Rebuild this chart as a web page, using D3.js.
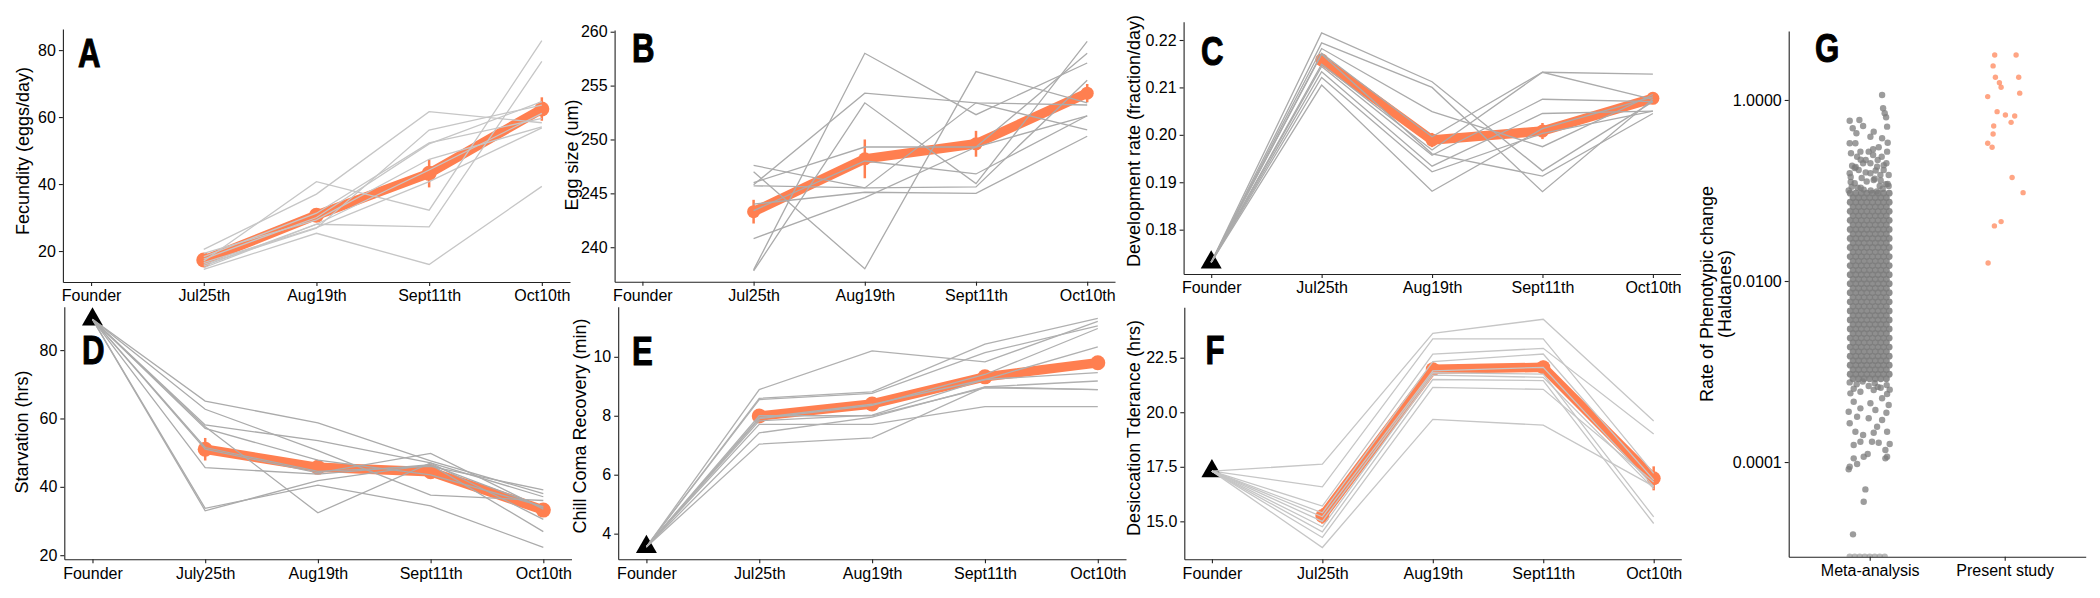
<!DOCTYPE html>
<html>
<head>
<meta charset="utf-8">
<script src="https://cdn.jsdelivr.net/npm/d3@7"></script>
<style>
body { margin: 0; background: #fff; }
svg { display: block; font-family: "Liberation Sans", Arial, Helvetica, sans-serif; }
.axis .tick text { font-size: 16px; fill: #000; font-family: "Liberation Sans", Arial, Helvetica, sans-serif; }
.axis .tick line, .axis .domain { stroke: #222; stroke-width: 1.1px; }
.ytitle { font-size: 18px; fill: #000; }
.letter { font-family: "Liberation Sans", Arial, sans-serif; font-weight: bold; font-size: 40px; fill: #000; stroke: #000; stroke-width: 1px; }
</style>
</head>
<body>
<div id="chart"></div>
<script>
var dates = ["Founder", "Jul25th", "Aug19th", "Sept11th", "Oct10th"];
var datesJuly = ["Founder", "July25th", "Aug19th", "Sept11th", "Oct10th"];

// A - fecundity (eggs/day)
var fecMean = [null, 17.3, 30.7, 43.2, 62.4];
var fecErr = [null, 1.2, 1.8, 4.2, 3.5];
var fecReps = [
	[null, 17.0, 40.7, 32.2, 82.8],
	[null, 15.5, 28.0, 27.2, 76.6],
	[null, 20.5, 37.0, 61.6, 58.3],
	[null, 16.0, 26.8, 56.1, 63.6],
	[null, 18.3, 31.3, 52.3, 59.6],
	[null, 19.3, 29.3, 47.4, 57.1],
	[null, 14.5, 25.3, 16.0, 39.3],
	[null, 17.6, 30.0, 52.0, 64.6],
	[null, 15.0, 28.0, 44.2, 61.1],
	[null, 16.5, 27.0, 40.7, 56.8]];

// B - egg size (um)
var eggMean = [null, 243.3, 248.2, 249.6, 254.3];
var eggErr = [null, 1.1, 1.8, 1.2, 0.85];
var eggReps = [
	[null, 247.0, 238.0, 256.3, 253.4],
	[null, 237.9, 258.0, 252.3, 257.1],
	[null, 237.8, 253.4, 245.9, 259.1],
	[null, 245.8, 254.3, 253.4, 253.2],
	[null, 240.8, 244.6, 249.3, 258.0],
	[null, 246.0, 249.3, 249.3, 252.2],
	[null, 247.6, 245.5, 245.6, 255.5],
	[null, 244.0, 245.1, 245.0, 250.3],
	[null, 243.4, 248.0, 246.8, 252.2],
	[null, 245.7, 245.5, 253.4, 250.9]];

// C - development rate
var devFounder = 0.1731;
var devMean = [null, 0.2158, 0.1989, 0.2008, 0.2077];
var devErr = [null, 0.0008, 0.0015, 0.0017, 0.001];
var devReps = [
	[0.1731, 0.2215, 0.2112, 0.1924, 0.2070],
	[0.1731, 0.2194, 0.2100, 0.1880, 0.2075],
	[0.1731, 0.2182, 0.2049, 0.1975, 0.2085],
	[0.1731, 0.2172, 0.1996, 0.2132, 0.2128],
	[0.1731, 0.2149, 0.1968, 0.2132, 0.2075],
	[0.1731, 0.2144, 0.1957, 0.2075, 0.2070],
	[0.1731, 0.2133, 0.1934, 0.2045, 0.2050],
	[0.1731, 0.2121, 0.1922, 0.2003, 0.2050],
	[0.1731, 0.2105, 0.1881, 0.2013, 0.2080],
	[0.1731, 0.2170, 0.1960, 0.1913, 0.2045]];

// D - starvation (hrs)
var starvFounder = 89;
var starvMean = [null, 51.0, 45.7, 44.4, 33.2];
var starvErr = [null, 3.3, 1.0, 1.2, 1.0];
var starvReps = [
	[89, 65.1, 58.7, 47.6, 38.0],
	[89, 62.7, 50.6, 37.6, 36.0],
	[89, 58.1, 53.5, 47.0, 37.1],
	[89, 57.1, 47.8, 43.5, 34.2],
	[89, 57.6, 32.4, 47.0, 30.5],
	[89, 51.0, 44.1, 49.8, 33.5],
	[89, 45.6, 43.7, 46.5, 34.0],
	[89, 33.7, 40.5, 34.4, 22.3],
	[89, 33.0, 41.8, 46.5, 26.9],
	[89, 51.5, 44.5, 46.0, 39.1]];

// E - chill coma recovery (min)
var chillFounder = 3.55;
var chillMean = [null, 7.99, 8.40, 9.32, 9.80];
var chillErr = [null, 0.15, 0.15, 0.15, 0.12];
var chillReps = [
	[3.55, 8.89, 10.20, 9.83, 11.20],
	[3.55, 8.59, 8.81, 10.43, 11.30],
	[3.55, 8.55, 8.76, 10.14, 11.05],
	[3.55, 7.93, 8.39, 9.23, 10.34],
	[3.55, 7.83, 8.02, 9.23, 9.46],
	[3.55, 7.71, 7.71, 8.31, 8.31],
	[3.55, 7.42, 7.95, 8.98, 9.18],
	[3.55, 7.04, 7.25, 8.98, 8.89],
	[3.55, 8.00, 8.00, 8.95, 8.89],
	[3.55, 7.90, 8.35, 9.40, 10.96]];

// F - desiccation tolerance (hrs)
var desFounder = 17.3;
var desMean = [null, 15.24, 21.97, 22.06, 16.97];
var desErr = [null, 0.35, 0.3, 0.3, 0.55];
var desReps = [
	[17.3, 17.62, 23.62, 24.26, 19.6],
	[17.3, 16.58, 23.36, 23.36, 17.2],
	[17.3, 15.70, 22.66, 22.93, 19.0],
	[17.3, 15.39, 22.32, 22.67, 16.9],
	[17.3, 15.21, 21.90, 22.06, 16.6],
	[17.3, 15.00, 21.81, 21.75, 15.2],
	[17.3, 14.75, 21.70, 21.60, 16.5],
	[17.3, 14.52, 21.50, 21.45, 14.9],
	[17.3, 14.26, 21.14, 21.05, 16.8],
	[17.3, 13.80, 19.67, 19.41, 16.6]];

// G - rates of phenotypic change (haldanes)
var groups = ["Meta-analysis", "Present study"];
var haldaneTicks = [1, 0.01, 0.0001];
var presentValues = [3.14, 3.14, 2.38, 1.78, 1.78, 1.55, 1.38, 1.19, 1.09, 0.743,
	0.682, 0.665, 0.566, 0.516, 0.421, 0.332, 0.300, 0.139, 0.0946, 0.0406, 0.0453, 0.0158];
var presentJitter = [-10, 11.4, -11.6, -9.3, 14, -5.3, -3.6, 15, -17, -7.6,
	0.7, 10, 6.4, -11, -11.6, -17, -12.6, 7.4, 18.4, -10.3, -3.6, -16.6];
// sparse meta-analysis points (log10 haldanes), tails above and below the dense core
var metaLog10 = [0.055, -0.092, -0.147, -0.191, -0.229, -0.221, -0.295, -0.313, -0.287, -0.368,
	-0.350, -0.406, -0.423, -0.472, -0.478, -0.478, -0.523, -0.571, -0.571, -0.545,
	-0.589, -0.571, -0.608, -0.627, -0.627, -0.726, -0.699, -0.699, -0.699, -0.737,
	-0.810, -0.773, -0.829, -0.810, -0.829, -0.663, -0.663, -0.751, -0.773, -0.862,
	-0.884, -0.906, -0.928, -0.950,
	-0.96, -0.97, -0.99, -1.00, -1.01, -0.98, -0.95, -0.92, -0.90, -0.87,
	-0.93, -0.97, -1.00, -0.89, -0.85, -0.80, -0.78, -0.74, -0.72, -0.66,
	-3.12, -3.14, -3.11, -3.16, -3.13, -3.18, -3.15, -3.19, -3.17, -3.20,
	-3.241, -3.223, -3.204, -3.249, -3.296, -3.334, -3.351, -3.370, -3.407, -3.444,
	-3.425, -3.455, -3.499, -3.517, -3.536, -3.572, -3.610, -3.665, -3.702, -3.676,
	-3.665, -3.776, -3.776, -3.787, -3.812, -3.801, -3.867, -3.912, -3.941, -3.941,
	-3.959, -3.959, -4.022, -4.052, -4.080, -4.302, -4.439, -4.799];
var metaJitter = [12.4, 13.4, 15.0, 16.4, -20, -10.3, 17.4, -17, -6.6, -13.3,
	4, 0.7, 12.4, 18, -20, -14.3, 9, -9.3, -1, 3.4,
	-18.7, 17.4, 3.4, 12, -12.6, -17.6, -6.6, 0.7, 16.7, 7.4,
	-20, -11, 19, 0.7, 10.7, -4, 8, -15, 14, -8,
	4, -19, 18, 10,
	-18, -12, -6, 1, 7, 13, 19, -15, -3, 5,
	16, -9, -21, 11, -19, -4, 6, -14, 14, -9,
	-20, -13, -7, -1, 5, 11, 17, -16, 8, 20,
	-19.3, -9.3, 4, 17.4, 12.4, -16, 0.7, 19, -9.3, -21,
	5.7, 16.7, -12.6, -1, 12.4, -20, 7.4, -14.3, -6.6, 4,
	17.4, -9.3, 2.3, 9, -16, 20, 15.7, -2, -6, 17.4,
	15.7, -16, -12.6, -20, -21, -4.3, -6, -16.7];
// dense core of the meta-analysis cloud, one row of points per level (log10 haldanes)
var metaCoreLog10 = [-1.03, -1.08, -1.13, -1.18, -1.23, -1.28, -1.33,
	-1.38, -1.43, -1.48, -1.53, -1.58, -1.63, -1.68, -1.73, -1.78, -1.83,
	-1.88, -1.93, -1.98, -2.03, -2.08, -2.13, -2.18, -2.23, -2.28, -2.33,
	-2.38, -2.43, -2.48, -2.53, -2.58, -2.63, -2.68, -2.73, -2.78, -2.83,
	-2.88, -2.93, -2.98, -3.03, -3.08];
// values sitting on the bottom of the axis
var metaZeros = [0.000009, 0.000009, 0.000009, 0.000009, 0.000009, 0.000009, 0.000009, 0.000009];
var metaZeroJitter = [-20, -15, -10, -5, 0, 5, 10, 15];


var orange = "#ff7f50";

var svg = d3.select("#chart")
	.append("svg")
	.attr("width", 2100)
	.attr("height", 598)
	.attr("viewBox", "0 0 2100 598");

function addLetter(g, letter, lx, ly) {
	g.append("text")
		.attr("class", "letter")
		.attr("transform", "translate(" + lx + "," + ly + ") scale(0.78,1)")
		.text(letter);
}

function drawPanel(p) {
	var x = d3.scalePoint().domain(p.cats).range([p.left, p.right]).padding(0.25);
	var y = d3.scaleLinear().domain(p.yDomain).range([p.bottom, p.top]);
	var g = svg.append("g");

	g.append("g")
		.attr("class", "axis")
		.attr("transform", "translate(0," + p.bottom + ")")
		.call(d3.axisBottom(x).tickSize(4).tickSizeOuter(0).tickPadding(4));

	g.append("g")
		.attr("class", "axis")
		.attr("transform", "translate(" + p.left + ",0)")
		.call(d3.axisLeft(y).tickValues(p.ticks).tickFormat(p.fmt)
			.tickSize(4).tickSizeOuter(0).tickPadding(3));

	g.append("text")
		.attr("class", "ytitle")
		.attr("text-anchor", "middle")
		.attr("transform", "translate(" + p.titleX + "," + p.titleY + ") rotate(-90)")
		.text(p.title);

	addLetter(g, p.letter, p.letterX, p.letterY);

	var line = d3.line()
		.defined(function(d){ return d != null; })
		.x(function(d, i){ return x(p.cats[i]); })
		.y(function(d){ return y(d); });

	if (p.founder != null) {
		g.append("path")
			.attr("d", d3.symbol(d3.symbolTriangle, 190))
			.attr("transform", "translate(" + x(p.cats[0]) + "," + y(p.founder) + ")")
			.attr("fill", "#000");
	}

	// mean trajectory
	g.append("path")
		.datum(p.mean)
		.attr("d", line)
		.attr("fill", "none")
		.attr("stroke", orange)
		.attr("stroke-width", 9.5)
		.attr("stroke-linejoin", "round");

	p.mean.forEach(function(m, i){
		if (m == null) return;
		g.append("line")
			.attr("x1", x(p.cats[i])).attr("x2", x(p.cats[i]))
			.attr("y1", y(m - p.err[i])).attr("y2", y(m + p.err[i]))
			.attr("stroke", orange)
			.attr("stroke-width", 2.5);
		g.append("circle")
			.attr("cx", x(p.cats[i]))
			.attr("cy", y(m))
			.attr("r", p.r)
			.attr("fill", orange);
	});

	// replicate populations
	g.selectAll(".rep")
		.data(p.reps)
		.enter()
		.append("path")
		.attr("d", line)
		.attr("fill", "none")
		.attr("stroke", p.grey)
		.attr("stroke-width", 1.3);
}

var fmtInt = d3.format("d");

drawPanel({cats: dates, left: 62.9, right: 570, top: 29, bottom: 282,
	yDomain: [10.75, 86.3], ticks: [20, 40, 60, 80], fmt: fmtInt,
	title: "Fecundity (eggs/day)", titleX: 29, titleY: 151,
	letter: "A", letterX: 78, letterY: 67,
	mean: fecMean, err: fecErr, reps: fecReps, founder: null, grey: "#c6c6c6", r: 7.5});

drawPanel({cats: dates, left: 614.6, right: 1115, top: 30, bottom: 281.7,
	yDomain: [236.8, 260.16], ticks: [240, 245, 250, 255, 260], fmt: fmtInt,
	title: "Egg size (um)", titleX: 577.5, titleY: 155,
	letter: "B", letterX: 632, letterY: 62.3,
	mean: eggMean, err: eggErr, reps: eggReps, founder: null, grey: "#ababab", r: 6.5});

drawPanel({cats: dates, left: 1183.6, right: 1680.5, top: 21.7, bottom: 274,
	yDomain: [0.17065, 0.22386], ticks: [0.18, 0.19, 0.20, 0.21, 0.22], fmt: d3.format(".2f"),
	title: "Development rate (fraction/day)", titleX: 1139.5, titleY: 141,
	letter: "C", letterX: 1201, letterY: 65,
	mean: devMean, err: devErr, reps: devReps, founder: devFounder, grey: "#ababab", r: 6.5});

drawPanel({cats: datesJuly, left: 64.3, right: 571.5, top: 306.7, bottom: 559.3,
	yDomain: [18.8, 92.7], ticks: [20, 40, 60, 80], fmt: fmtInt,
	title: "Starvation (hrs)", titleX: 27.5, titleY: 432,
	letter: "D", letterX: 82, letterY: 364,
	mean: starvMean, err: starvErr, reps: starvReps, founder: starvFounder, grey: "#ababab", r: 7.5});

drawPanel({cats: dates, left: 618.2, right: 1126, top: 306.7, bottom: 559.3,
	yDomain: [3.13, 11.7], ticks: [4, 6, 8, 10], fmt: fmtInt,
	title: "Chill Coma Recovery (min)", titleX: 586, titleY: 426,
	letter: "E", letterX: 632, letterY: 365,
	mean: chillMean, err: chillErr, reps: chillReps, founder: chillFounder, grey: "#b0b0b0", r: 7.5});

drawPanel({cats: dates, left: 1184.3, right: 1681.3, top: 307.3, bottom: 559.3,
	yDomain: [13.26, 24.81], ticks: [15, 17.5, 20, 22.5], fmt: d3.format(".1f"),
	title: "Desiccation Tderance (hrs)", titleX: 1140, titleY: 428,
	letter: "F", letterX: 1205.5, letterY: 364,
	mean: desMean, err: desErr, reps: desReps, founder: desFounder, grey: "#c6c6c6", r: 7});


// panel G: log-scale jitter plot
var gx = d3.scalePoint().domain(groups).range([1788.7, 2085.7]).padding(0.6);
var gy = d3.scaleLog().domain([0.000009, 5.78]).range([556.7, 31]);
var gG = svg.append("g");

gG.append("clipPath").attr("id", "clipG")
	.append("rect").attr("x", 1788.7).attr("y", 31).attr("width", 297).attr("height", 525.7);

var pts = gG.append("g").attr("clip-path", "url(#clipG)");
var metaX = gx(groups[0]);
var colsEven = [-19.5, -13.9, -8.4, -2.8, 2.8, 8.4, 13.9, 19.5];
var colsOdd = [-16.7, -11.1, -5.6, 0, 5.6, 11.1, 16.7];

metaCoreLog10.forEach(function(v, i){
	var cols = i % 2 ? colsOdd : colsEven;
	pts.selectAll(null)
		.data(cols)
		.enter()
		.append("circle")
		.attr("cx", function(c){ return metaX + c; })
		.attr("cy", gy(Math.pow(10, v)))
		.attr("r", 3.4)
		.attr("fill", "#7b7b7b")
		.attr("opacity", 0.85);
});

pts.selectAll(".meta")
	.data(metaLog10)
	.enter()
	.append("circle")
	.attr("cx", function(d, i){ return metaX + metaJitter[i]; })
	.attr("cy", function(d){ return gy(Math.pow(10, d)); })
	.attr("r", 3.2)
	.attr("fill", "#7b7b7b")
	.attr("opacity", 0.75);

pts.selectAll(".zero")
	.data(metaZeros)
	.enter()
	.append("circle")
	.attr("cx", function(d, i){ return metaX + metaZeroJitter[i]; })
	.attr("cy", function(d){ return gy(d); })
	.attr("r", 3.2)
	.attr("fill", "#8a8a8a")
	.attr("opacity", 0.6);

pts.selectAll(".present")
	.data(presentValues)
	.enter()
	.append("circle")
	.attr("cx", function(d, i){ return gx(groups[1]) + presentJitter[i]; })
	.attr("cy", function(d){ return gy(d); })
	.attr("r", 2.7)
	.attr("fill", orange)
	.attr("opacity", 0.7);

gG.append("g")
	.attr("class", "axis")
	.attr("transform", "translate(0,556.7)")
	.call(d3.axisBottom(gx).tickSize(4).tickSizeOuter(0).tickPadding(4));

gG.append("g")
	.attr("class", "axis")
	.attr("transform", "translate(1788.7,0)")
	.call(d3.axisLeft(gy).tickValues(haldaneTicks).tickFormat(d3.format(".4f"))
		.tickSize(4).tickSizeOuter(0).tickPadding(3));

var gTitle = gG.append("text")
	.attr("class", "ytitle")
	.attr("text-anchor", "middle")
	.attr("transform", "translate(1713,294) rotate(-90)");
gTitle.append("tspan").attr("x", 0).attr("y", 0).text("Rate of Phenotypic change");
gTitle.append("tspan").attr("x", 0).attr("y", 18).text("(Haldanes)");

addLetter(gG, "G", 1815, 61.7);
</script>
</body>
</html>
